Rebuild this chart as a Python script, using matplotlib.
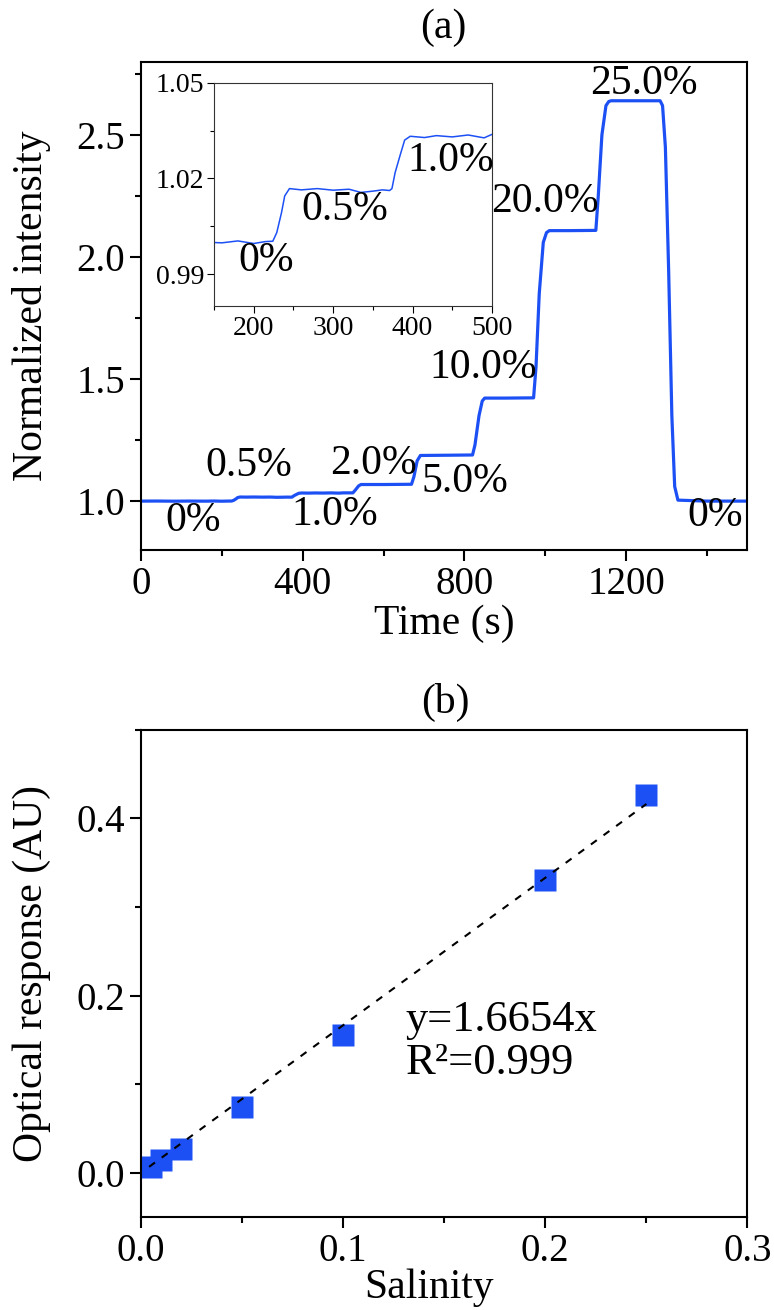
import matplotlib
matplotlib.use("Agg")
import matplotlib.pyplot as plt
from matplotlib.ticker import MultipleLocator

plt.rcParams['font.family'] = ['Liberation Serif', 'DejaVu Serif']
plt.rcParams['axes.linewidth'] = 1.5

## donnees (a) : intensite normalisee en fonction du temps
time_s = [0, 40, 80, 120, 160, 180, 200, 215, 224, 229, 235, 239, 245, 260, 280,
          300, 320, 335, 350, 362, 371, 374, 378, 384, 390, 397, 415, 430, 450,
          470, 490, 500, 524, 530, 538, 544, 600, 669, 675, 683, 691, 760, 820,
          826, 836, 844, 850, 900, 971, 977, 985, 995, 1003, 1010, 1060, 1125,
          1131, 1140, 1150, 1157, 1163, 1220, 1284, 1290, 1297, 1305, 1313, 1320,
          1328, 1400, 1500]
intensity = [1.0000, 1.0003, 0.9997, 1.0002, 0.9998, 1.0004, 0.9996, 1.0002,
             1.0003, 1.0030, 1.0093, 1.0145, 1.0168, 1.0164, 1.0168, 1.0163,
             1.0166, 1.0156, 1.0160, 1.0164, 1.0162, 1.0168, 1.0218, 1.0270,
             1.0320, 1.0332, 1.0328, 1.0334, 1.0330, 1.0336, 1.0327, 1.0338,
             1.0338, 1.0450, 1.0620, 1.0680, 1.0680, 1.0690, 1.1000, 1.1650,
             1.1870, 1.1880, 1.1890, 1.2300, 1.3500, 1.4100, 1.4220, 1.4220,
             1.4230, 1.5500, 1.8500, 2.0600, 2.1000, 2.1080, 2.1080, 2.1090,
             2.2500, 2.5000, 2.6200, 2.6370, 2.6400, 2.6400, 2.6400, 2.6200,
             2.4500, 1.9500, 1.3500, 1.0600, 1.0040, 1.0000, 1.0000]

# etiquettes de concentration (texte, t, valeur)
step_labels = ["0%", "0.5%", "1.0%", "2.0%", "5.0%", "10.0%", "20.0%", "25.0%", "0%"]
step_t = [128, 266, 479, 575, 800, 847, 999, 1245, 1419]
step_v = [0.92, 1.145, 0.945, 1.152, 1.079, 1.545, 2.226, 2.709, 0.939]

inset_labels = ["0%", "0.5%", "1.0%"]
inset_t = [215, 315, 448]
inset_v = [0.9943, 1.0103, 1.0254]

## donnees (b) : reponse optique en fonction de la salinite
salinity = [0.005, 0.01, 0.02, 0.05, 0.1, 0.2, 0.25]
response = [0.007, 0.014, 0.027, 0.074, 0.155, 0.330, 0.427]
fit_slope = 1.6654
fit_x = [0.004, 0.25]

bleu = '#1c50f5'

fig = plt.figure(figsize=(7.74, 13.10), dpi=100)

def reglage(ax, size=28, long_maj=8, long_min=4.5):
    ax.tick_params(which='both', direction='out', top=False, right=False,
                   width=1.5, labelsize=size)
    ax.tick_params(which='major', length=long_maj)
    ax.tick_params(which='minor', length=long_min)

## (a)
ax = fig.add_axes([0.1822, 0.5802, 0.7835, 0.3727])
ax.plot(time_s, intensity, color=bleu, lw=2.3)
ax.set_xlim(0, 1500)
ax.set_ylim(0.8, 2.8)
ax.xaxis.set_major_locator(MultipleLocator(400))
ax.xaxis.set_minor_locator(MultipleLocator(200))
ax.yaxis.set_major_locator(MultipleLocator(0.5))
ax.yaxis.set_minor_locator(MultipleLocator(0.25))
reglage(ax)
ax.set_xlabel("Time (s)", fontsize=30, labelpad=1)
ax.set_ylabel("Normalized intensity", fontsize=30, labelpad=18)
for s, t, v in zip(step_labels, step_t, step_v):
    ax.text(t, v, s, fontsize=30, ha='center', va='center')
fig.text(0.573, 1 - 28 / 1310, "(a)", fontsize=30, ha='center', va='center')

# encart
axi = fig.add_axes([0.2765, 0.7664, 0.3592, 0.1705])
axi.plot(time_s, intensity, color=bleu, lw=1.1)
axi.set_xlim(150, 500)
axi.set_ylim(0.98, 1.05)
axi.xaxis.set_major_locator(MultipleLocator(100))
axi.xaxis.set_minor_locator(MultipleLocator(50))
axi.yaxis.set_major_locator(MultipleLocator(0.03))
axi.yaxis.set_minor_locator(MultipleLocator(0.015))
axi.set_yticks([0.99, 1.02, 1.05])
axi.set_yticklabels(["0.99", "1.02", "1.05"])
for sp in axi.spines.values():
    sp.set_linewidth(0.8)
    sp.set_color('#333333')
axi.tick_params(which='both', direction='out', top=False, right=False,
                width=0.8, labelsize=20, pad=2)
axi.tick_params(which='major', length=5)
axi.tick_params(which='minor', length=3)
for s, t, v in zip(inset_labels, inset_t, inset_v):
    axi.text(t, v, s, fontsize=30, ha='center', va='center')

## (b)
bx = fig.add_axes([0.1822, 0.0710, 0.7835, 0.3718])
bx.plot(fit_x, [fit_slope * x for x in fit_x], color='black', lw=1.5,
        dashes=(3.5, 4), zorder=3)
bx.plot(salinity, response, 's', color=bleu, ms=16, mec='none', zorder=2)
bx.set_xlim(0, 0.3)
bx.set_ylim(-0.05, 0.5)
bx.xaxis.set_major_locator(MultipleLocator(0.1))
bx.xaxis.set_minor_locator(MultipleLocator(0.05))
bx.yaxis.set_major_locator(MultipleLocator(0.2))
bx.yaxis.set_minor_locator(MultipleLocator(0.1))
reglage(bx)
bx.set_xlabel("Salinity", fontsize=30, labelpad=0)
bx.xaxis.set_label_coords(0.475, -0.105)
bx.set_ylabel("Optical response (AU)", fontsize=30, labelpad=18)
bx.text(0.131, 0.172, "y=1.6654x", fontsize=32, ha='left', va='center')
bx.text(0.131, 0.124, "R\u00b2=0.999", fontsize=32, ha='left', va='center')
fig.text(445 / 774, 1 - 702 / 1310, "(b)", fontsize=30, ha='center', va='center')

fig.savefig("out.png", dpi=100)
